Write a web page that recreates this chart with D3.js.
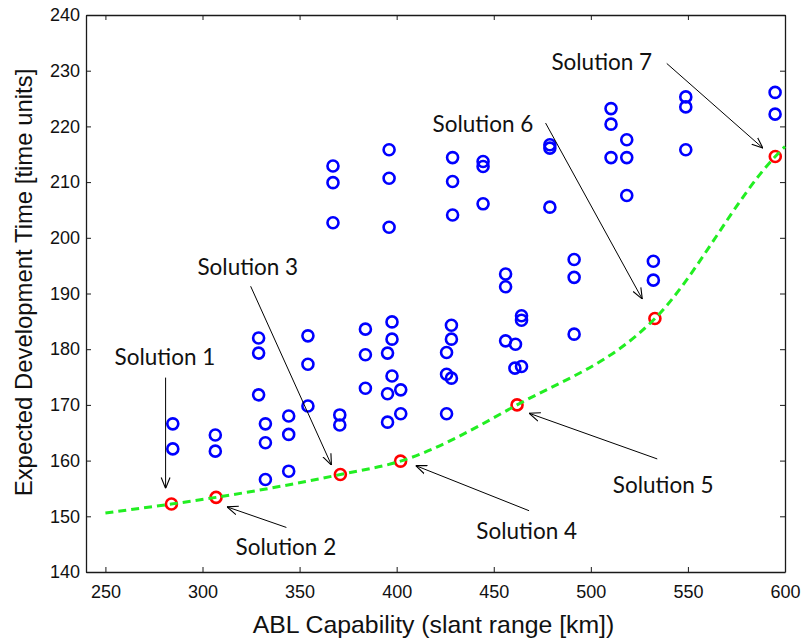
<!DOCTYPE html>
<html>
<head>
<meta charset="utf-8">
<script src="https://cdn.jsdelivr.net/npm/d3@7"></script>
<style>
  body { margin: 0; background: #fff; }
  svg { display: block; }
</style>
</head>
<body>
<script>
// candidate designs (blue circles)
var ablRange = [284.7, 284.7, 306.6, 306.6, 328.9, 328.9, 328.9, 332.4, 332.4, 332.4,
  344.4, 344.4, 344.4, 354.3, 354.3, 354.3, 367.2, 367.2, 367.2, 370.7, 370.7,
  383.9, 383.9, 383.9, 395.3, 395.3, 395.3, 396.1, 396.1, 396.1, 397.6, 397.6, 397.6,
  402.1, 402.1, 425.7, 425.7, 425.7, 428.2, 428.2, 428.2, 428.8, 428.8, 428.8,
  444.5, 444.5, 444.5, 456.1, 456.1, 456.1, 461.2, 460.9, 464.3, 464.3, 464.3,
  478.9, 478.9, 478.9, 491.4, 491.4, 491.4, 510.4, 510.4, 510.4, 518.5, 518.5, 518.5,
  532.2, 532.2, 548.9, 548.9, 548.9, 594.9, 594.9];
var devTime = [166.6, 162.1, 164.6, 161.7, 182.0, 179.3, 171.8, 166.6, 163.2, 156.6,
  168.0, 164.7, 158.1, 182.4, 177.3, 169.8, 212.9, 209.9, 202.7, 168.2, 166.4,
  183.6, 179.0, 173.0, 179.3, 172.0, 166.9, 215.8, 210.7, 201.9, 184.9, 181.8, 175.2,
  172.7, 168.4, 179.4, 175.5, 168.4, 184.3, 181.8, 174.8, 214.4, 210.1, 204.1,
  213.7, 212.8, 206.1, 193.5, 191.2, 181.5, 180.9, 176.6, 186.0, 185.2, 176.9,
  216.7, 216.1, 205.5, 196.1, 192.9, 182.7, 223.2, 220.4, 214.4, 217.6, 214.4, 207.6,
  195.8, 192.4, 225.3, 223.5, 215.8, 226.1, 222.2];

// pareto solutions (red)
var solAbl = [284, 307, 371, 402, 462, 533, 595];
var solTime = [152.2, 153.4, 157.5, 159.9, 170.0, 185.5, 214.6];

// frontier (green dashed)
var frontAbl = [250, 284, 307, 371, 402, 462, 533, 595, 600];
var frontTime = [150.6, 152.2, 153.4, 157.5, 159.9, 170.0, 185.5, 214.6, 216.4];

var xTicks = [250, 300, 350, 400, 450, 500, 550, 600];
var yTicks = [140, 150, 160, 170, 180, 190, 200, 210, 220, 230, 240];

// annotation labels: text position, arrow start, arrow end (data units)
var labels = ['Solution 1', 'Solution 2', 'Solution 3', 'Solution 4', 'Solution 5', 'Solution 6', 'Solution 7'];
var labelX = [254.7, 317.0, 297.4, 441.0, 511.3, 418.5, 479.7];
var labelY = [177.2, 143.1, 193.3, 145.9, 154.1, 219.0, 230.1];
var arrowX0 = [281.0, 343.2, 324.8, 468.2, 534.2, 476.7, 539.1];
var arrowY0 = [174.9, 148.0, 191.3, 151.0, 160.3, 220.6, 231.3];
var arrowX1 = [281.0, 312.6, 366.4, 409.8, 468.2, 526.5, 588.6];
var arrowY1 = [155.0, 151.7, 159.2, 159.1, 168.5, 189.0, 216.1];

var W = 805, H = 639;
var margin = {top: 15, right: 20, bottom: 67, left: 86};

var svg = d3.select('body').append('svg').attr('width', W).attr('height', H);

var x = d3.scaleLinear().domain([240, 600]).range([margin.left, W - margin.right]);
var y = d3.scaleLinear().domain([140, 240]).range([H - margin.bottom, margin.top]);

svg.append('defs').append('marker')
  .attr('id', 'arr').attr('viewBox', '0 0 10 10')
  .attr('refX', 10).attr('refY', 5)
  .attr('markerWidth', 11).attr('markerHeight', 11)
  .attr('markerUnits', 'userSpaceOnUse')
  .attr('orient', 'auto')
  .append('path').attr('d', 'M0,1 L10,5 L0,9')
  .style('fill', 'none').style('stroke', '#000').style('stroke-width', 1);

// axes with inward ticks on all four sides
var tickLen = 5;
var axisFont = '"Liberation Sans", Arial, sans-serif';

var gB = svg.append('g').attr('transform', 'translate(0,' + (H - margin.bottom) + ')')
  .call(d3.axisBottom(x).tickValues(xTicks).tickSizeInner(-tickLen).tickSizeOuter(0).tickPadding(13));
var gT = svg.append('g').attr('transform', 'translate(0,' + margin.top + ')')
  .call(d3.axisTop(x).tickValues(xTicks).tickSizeInner(-tickLen).tickSizeOuter(0).tickFormat(''));
var gL = svg.append('g').attr('transform', 'translate(' + margin.left + ',0)')
  .call(d3.axisLeft(y).tickValues(yTicks).tickSizeInner(-tickLen).tickSizeOuter(0).tickPadding(6));
var gR = svg.append('g').attr('transform', 'translate(' + (W - margin.right) + ',0)')
  .call(d3.axisRight(y).tickValues(yTicks).tickSizeInner(-tickLen).tickSizeOuter(0).tickFormat(''));

[gB, gT, gL, gR].forEach(function(g){
  g.select('.domain').style('stroke', '#1a1a1a').style('stroke-width', 1.3);
  g.selectAll('.tick line').style('stroke', '#1a1a1a');
  g.selectAll('.tick text').style('font-family', axisFont).style('font-size', '18px').style('fill', '#111');
});

// blue candidates
svg.selectAll('.cand').data(d3.range(ablRange.length)).enter().append('circle')
  .attr('class', 'cand')
  .attr('cx', function(i){ return x(ablRange[i]); })
  .attr('cy', function(i){ return y(devTime[i]); })
  .attr('r', 5.5)
  .style('fill', 'none').style('stroke', '#0000ff').style('stroke-width', 2.6);

// red solutions
svg.selectAll('.sol').data(d3.range(solAbl.length)).enter().append('circle')
  .attr('class', 'sol')
  .attr('cx', function(i){ return x(solAbl[i]); })
  .attr('cy', function(i){ return y(solTime[i]); })
  .attr('r', 5.5)
  .style('fill', 'none').style('stroke', '#ff0000').style('stroke-width', 2.6);

// frontier
var line = d3.line()
  .x(function(i){ return x(frontAbl[i]); })
  .y(function(i){ return y(frontTime[i]); })
  .curve(d3.curveMonotoneX);
svg.append('path').datum(d3.range(frontAbl.length))
  .attr('d', line)
  .style('fill', 'none').style('stroke', '#22ee22').style('stroke-width', 3)
  .style('stroke-dasharray', '8,5');

// annotations
var ann = svg.selectAll('.ann').data(d3.range(labels.length)).enter().append('g').attr('class', 'ann');
ann.append('line')
  .attr('x1', function(i){ return x(arrowX0[i]); })
  .attr('y1', function(i){ return y(arrowY0[i]); })
  .attr('x2', function(i){ return x(arrowX1[i]); })
  .attr('y2', function(i){ return y(arrowY1[i]); })
  .style('stroke', '#000').style('stroke-width', 1)
  .attr('marker-end', 'url(#arr)');
ann.append('text')
  .attr('x', function(i){ return x(labelX[i]); })
  .attr('y', function(i){ return y(labelY[i]); })
  .text(function(i){ return labels[i]; })
  .style('font-family', 'Lato, "Open Sans", sans-serif').style('font-size', '22.5px').style('fill', '#111');

// axis titles
svg.append('text')
  .attr('x', 433.5).attr('y', H - 6)
  .attr('text-anchor', 'middle')
  .style('font-family', axisFont).style('font-size', '24.8px').style('fill', '#111')
  .text('ABL Capability (slant range [km])');
svg.append('text')
  .attr('transform', 'translate(32,282.5) rotate(-90)')
  .attr('text-anchor', 'middle')
  .style('font-family', axisFont).style('font-size', '23.9px').style('fill', '#111')
  .text('Expected Development Time [time units]');
</script>
</body>
</html>
